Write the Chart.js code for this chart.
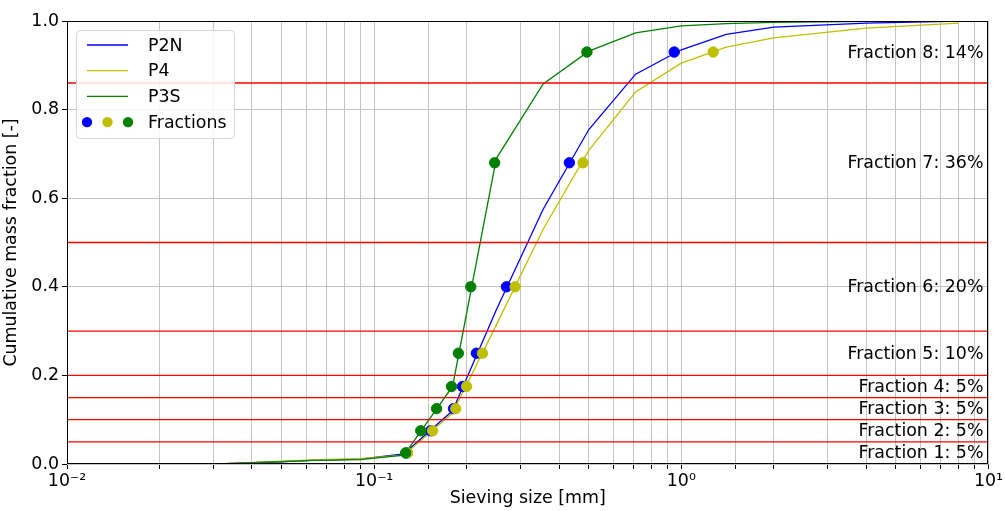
<!DOCTYPE html>
<html>
<head>
<meta charset="utf-8">
<script src="https://cdn.jsdelivr.net/npm/chart.js@4.4.0/dist/chart.umd.min.js"></script>
<style>
  html, body { margin: 0; padding: 0; background: #fff; }
  #wrap { width: 1005px; height: 511px; }
</style>
</head>
<body>
<div id="wrap"><canvas id="chart" width="1005" height="511"></canvas></div>
<script>
// --- data ---
const sieveSizes = [0.031, 0.045, 0.063, 0.09, 0.125, 0.18, 0.25, 0.355, 0.5, 0.71, 1, 1.4, 2, 4, 8];
const p2n = [0, 0.004, 0.008, 0.011, 0.023, 0.12, 0.348, 0.575, 0.755, 0.88, 0.935, 0.97, 0.986, 0.995, 1.0];
const p4  = [0, 0.005, 0.009, 0.012, 0.02, 0.115, 0.314, 0.53, 0.708, 0.84, 0.905, 0.941, 0.962, 0.984, 0.995];
const p3s = [0, 0.004, 0.008, 0.01, 0.02, 0.175, 0.69, 0.858, 0.932, 0.973, 0.989, 0.994, 0.997, 0.999, 1.0];

const fractionLevels = [0.025, 0.075, 0.125, 0.175, 0.25, 0.4, 0.68, 0.93];
const fracSizeP2N = [0.1275, 0.1527, 0.1813, 0.1939, 0.2152, 0.2696, 0.4321, 0.9486];
const fracSizeP4  = [0.1285, 0.155, 0.1844, 0.2, 0.2252, 0.2877, 0.4787, 1.27];
const fracSizeP3S = [0.1266, 0.1418, 0.1597, 0.1786, 0.188, 0.2063, 0.2468, 0.4928];

const fractionBounds = [0.05, 0.1, 0.15, 0.2, 0.3, 0.5, 0.86];
const fractionLabels = [
  "Fraction 1: 5%", "Fraction 2: 5%", "Fraction 3: 5%", "Fraction 4: 5%",
  "Fraction 5: 10%", "Fraction 6: 20%", "Fraction 7: 36%", "Fraction 8: 14%"
];
const xTickLabels = { "-2": "10⁻²", "-1": "10⁻¹", "0": "10⁰", "1": "10¹" };
const xRange = [0.01, 10];

const FONT = "'DejaVu Sans', sans-serif";
const FS = 17.4;
const BLUE = "#0000ff", YELLOW = "#bfbf00", GREEN = "#008000";

const pts = (xs, ys) => xs.map((x, i) => ({ x: x, y: ys[i] }));

const curve = (label, ys, color, order) => ({
  label, data: pts(sieveSizes, ys), showLine: true, borderColor: color,
  backgroundColor: color, borderWidth: 1.3, pointRadius: 0, order
});
const dots = (xs, color, order) => ({
  label: "Fractions", data: pts(xs, fractionLevels), showLine: false,
  backgroundColor: color, borderColor: color, pointRadius: 5.2, pointHoverRadius: 5.2, order
});
const boundLines = fractionBounds.map(b => ({
  label: "bound", data: [{ x: xRange[0], y: b }, { x: xRange[1], y: b }],
  showLine: true, borderColor: "#ff0000", borderWidth: 1.3, pointRadius: 0, order: 5
}));

// frame around the plot area
const frame = {
  id: "frame",
  afterDraw(chart) {
    const a = chart.chartArea, ctx = chart.ctx;
    ctx.save();
    ctx.strokeStyle = "#000";
    ctx.lineWidth = 1;
    ctx.strokeRect(Math.round(a.left) + 0.5, Math.round(a.top) + 0.5,
      Math.round(a.right - a.left) - 1, Math.round(a.bottom - a.top) - 1);
    ctx.restore();
  }
};

// fraction text labels on the right
const fractionText = {
  id: "fractionText",
  afterDatasetsDraw(chart) {
    const ctx = chart.ctx, ys = chart.scales.y, a = chart.chartArea;
    ctx.save();
    ctx.font = FS + "px " + FONT;
    ctx.fillStyle = "#000";
    ctx.textAlign = "right";
    ctx.textBaseline = "middle";
    fractionLabels.forEach((t, i) => {
      ctx.fillText(t, a.right - 5, ys.getPixelForValue(fractionLevels[i]) + 1);
    });
    ctx.restore();
  }
};

// matplotlib-style legend in upper left
const legendBox = {
  id: "legendBox",
  afterDraw(chart) {
    const ctx = chart.ctx, a = chart.chartArea;
    const x0 = a.left + 9, y0 = a.top + 9, w = 158, h = 108;
    ctx.save();
    ctx.fillStyle = "rgba(255,255,255,0.85)";
    ctx.strokeStyle = "#d6d6d6";
    ctx.lineWidth = 1;
    ctx.beginPath();
    ctx.roundRect(x0 + 0.5, y0 + 0.5, w, h, 4);
    ctx.fill();
    ctx.stroke();
    const rows = [
      { t: "P2N", c: BLUE }, { t: "P4", c: YELLOW }, { t: "P3S", c: GREEN }
    ];
    ctx.font = FS + "px " + FONT;
    ctx.textBaseline = "middle";
    rows.forEach((r, i) => {
      const y = y0 + 15 + i * 25.7;
      ctx.strokeStyle = r.c;
      ctx.lineWidth = 1.3;
      ctx.beginPath();
      ctx.moveTo(x0 + 11, y);
      ctx.lineTo(x0 + 52, y);
      ctx.stroke();
      ctx.fillStyle = "#000";
      ctx.fillText(r.t, x0 + 72, y + 1);
    });
    const yf = y0 + 15 + 3 * 25.7;
    [BLUE, YELLOW, GREEN].forEach((c, i) => {
      ctx.fillStyle = c;
      ctx.beginPath();
      ctx.arc(x0 + 11 + i * 20.5, yf, 5.2, 0, Math.PI * 2);
      ctx.fill();
    });
    ctx.fillStyle = "#000";
    ctx.fillText("Fractions", x0 + 72, yf + 1);
    ctx.restore();
  }
};

new Chart(document.getElementById("chart"), {
  type: "scatter",
  data: {
    datasets: [
      dots(fracSizeP3S, GREEN, 1),
      dots(fracSizeP4, YELLOW, 2),
      dots(fracSizeP2N, BLUE, 3),
      ...boundLines,
      curve("P3S", p3s, GREEN, 6),
      curve("P4", p4, YELLOW, 7),
      curve("P2N", p2n, BLUE, 8)
    ]
  },
  options: {
    responsive: false,
    animation: false,
    devicePixelRatio: 1,
    layout: { padding: { top: 21, right: 13, left: 0, bottom: 0 } },
    plugins: { legend: { display: false }, tooltip: { enabled: false } },
    scales: {
      x: {
        type: "logarithmic",
        min: xRange[0], max: xRange[1],
        afterFit(s) { s.height = 47; },
        border: { display: false },
        grid: { color: "#c4c4c4", lineWidth: 1, tickLength: 5, tickColor: "#000" },
        ticks: {
          autoSkip: false, maxRotation: 0, padding: 2,
          color: "#000", font: { family: FONT, size: FS },
          callback(v) {
            const e = Math.log10(v);
            return Math.abs(e - Math.round(e)) < 1e-6 ? (xTickLabels[String(Math.round(e))] || "") : "";
          }
        },
        title: { display: true, text: "Sieving size [mm]", color: "#000",
          font: { family: FONT, size: FS }, padding: { top: 1, bottom: 2 } }
      },
      y: {
        min: 0, max: 1,
        afterFit(s) { s.width = 67; },
        border: { display: false },
        grid: { color: "#c4c4c4", lineWidth: 1, tickLength: 5, tickColor: "#000" },
        ticks: {
          stepSize: 0.2, padding: 3, color: "#000", font: { family: FONT, size: FS },
          callback: v => v.toFixed(1)
        },
        title: { display: true, text: "Cumulative mass fraction [-]", color: "#000",
          font: { family: FONT, size: FS }, padding: { top: 1, bottom: 1 } }
      }
    }
  },
  plugins: [frame, fractionText, legendBox]
});
</script>
</body>
</html>
